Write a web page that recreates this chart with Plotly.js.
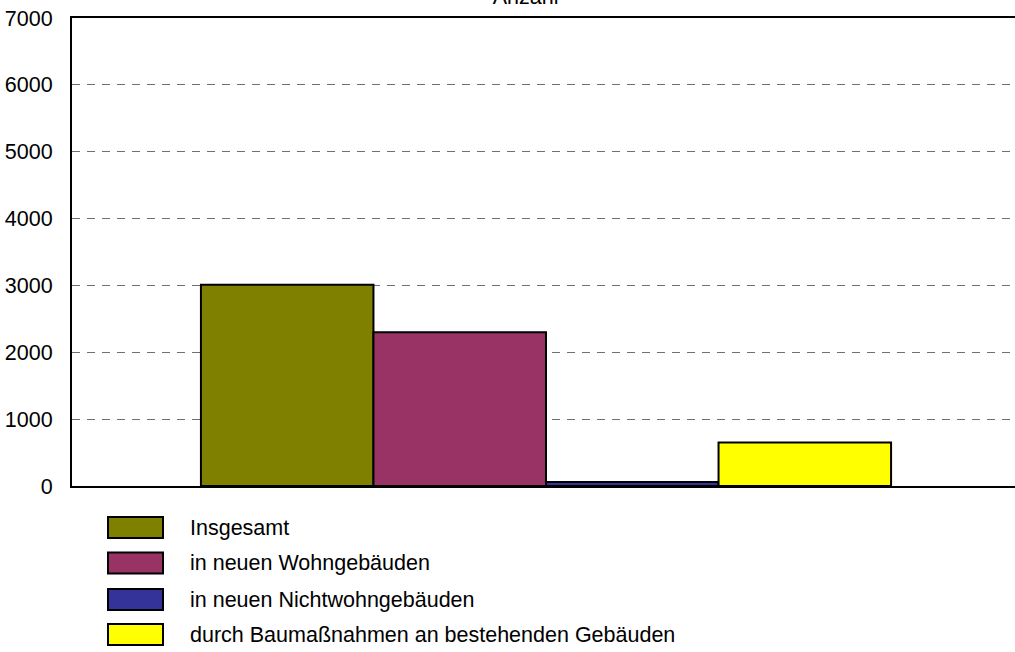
<!DOCTYPE html>
<html><head><meta charset="utf-8">
<script src="https://cdn.plot.ly/plotly-3.0.1.min.js"></script>
<style>html,body{margin:0;padding:0;overflow:hidden;background:#fff}</style>
</head><body><div id="chart"></div>
<script>
const seriesNames = ["Insgesamt", "in neuen Wohngebäuden", "in neuen Nichtwohngebäuden", "durch Baumaßnahmen an bestehenden Gebäuden"];
const seriesValues = [3010, 2300, 60, 650];
const seriesColors = ["#808000", "#993366", "#333399", "#FFFF00"];
const category = [""];
const yTicks = [0, 1000, 2000, 3000, 4000, 5000, 6000, 7000];

const W = 1020, H = 652, L = 72, T = 18, B = 166, R = 0;
const pw = W - L - R, ph = H - T - B;
const px = x => (x - L) / pw;
const py = y => (H - B - y) / ph;
const FONT = 'Liberation Sans, Arial, sans-serif';
const FS = 21.5;

const traces = seriesNames.map((n, i) => ({
  type: 'bar', name: n, x: category, y: [seriesValues[i]],
  marker: {color: seriesColors[i], line: {color: '#000', width: 2}},
  showlegend: false, hoverinfo: 'skip'
}));

const shapes = [], annotations = [];
const rowY = [527.5, 563, 599.5, 634.5];
seriesNames.forEach((n, i) => {
  shapes.push({type: 'rect', xref: 'paper', yref: 'paper',
    x0: px(108), x1: px(163), y0: py(rowY[i] + 10.5), y1: py(rowY[i] - 10.5),
    fillcolor: seriesColors[i], line: {color: '#000', width: 2}});
  annotations.push({xref: 'paper', yref: 'paper', x: px(188), y: py(rowY[i]),
    xanchor: 'left', yanchor: 'middle', text: n, showarrow: false,
    font: {family: FONT, size: FS, color: '#000'}});
});

const layout = {
  width: W, height: H,
  margin: {l: L, r: R, t: T, b: B, pad: 0},
  paper_bgcolor: '#fff', plot_bgcolor: '#fff',
  font: {family: FONT, size: FS, color: '#000'},
  title: {text: 'Anzahl', x: 523 / 1015, xref: 'container', xanchor: 'center',
    yref: 'container', y: 1 - 4 / 652, yanchor: 'bottom',
    font: {family: FONT, size: FS, color: '#000'}},
  barmode: 'group', bargap: 0.272, bargroupgap: 0,
  xaxis: {type: 'category', range: [-0.5, 0.5], showticklabels: false, ticks: '',
    showgrid: false, showline: true, linecolor: '#000', linewidth: 2, mirror: true,
    zeroline: false, fixedrange: true},
  yaxis: {range: [0, 7000], tickvals: yTicks, ticktext: yTicks.map(String),
    showgrid: true, gridcolor: '#707070', gridwidth: 1, griddash: '8px,7px',
    showline: true, linecolor: '#000', linewidth: 2, zeroline: false,
    ticks: '', ticklabelstandoff: 13, fixedrange: true,
    tickfont: {family: FONT, size: FS, color: '#000'}},
  shapes: shapes, annotations: annotations, showlegend: false
};

Plotly.newPlot('chart', traces, layout, {displayModeBar: false, staticPlot: true});
</script></body></html>
